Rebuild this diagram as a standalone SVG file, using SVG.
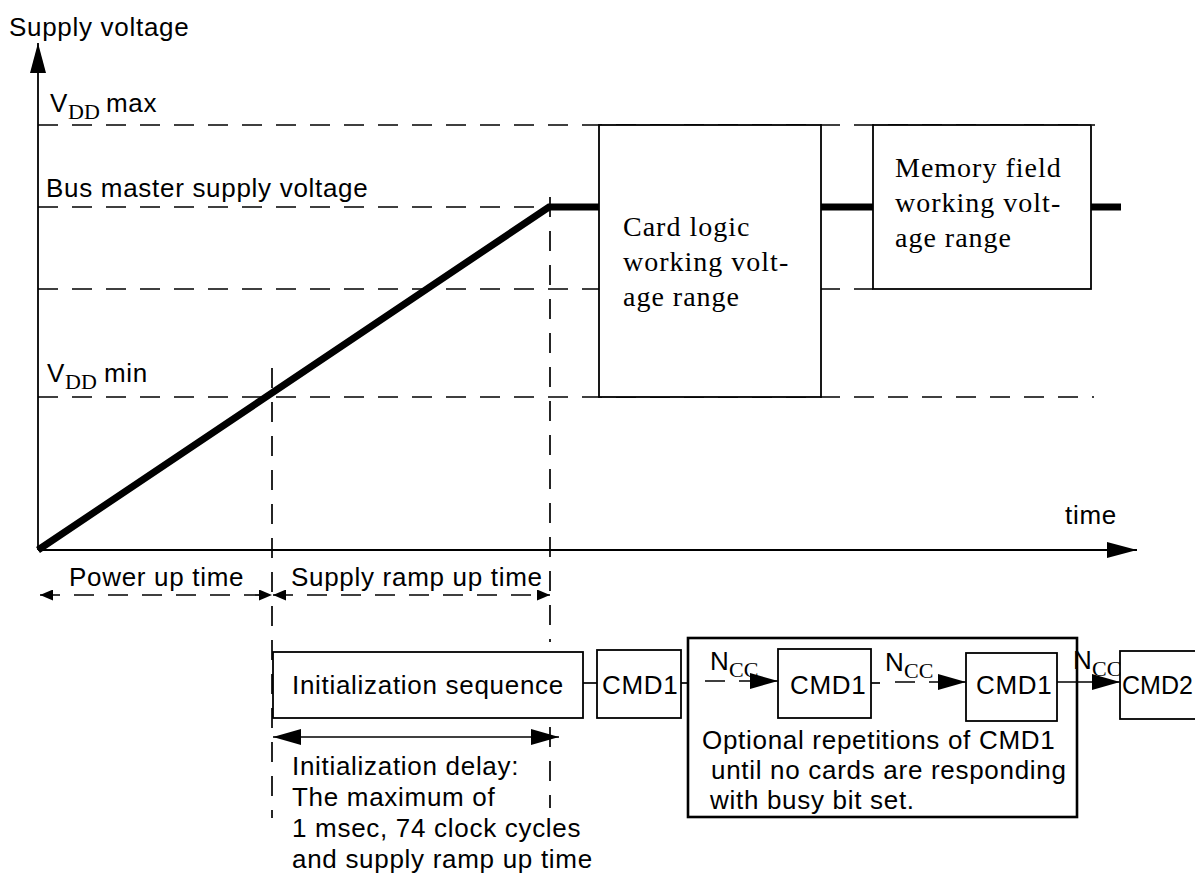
<svg xmlns="http://www.w3.org/2000/svg" width="1195" height="875" viewBox="0 0 1195 875">
<style>
  .bg { fill: #ffffff; }
  .t { font-family: "Liberation Sans", Arial, Helvetica, sans-serif; font-size: 26px; letter-spacing: 0.7px; fill: #000; }
  .s { font-family: "Liberation Serif", "Times New Roman", serif; font-size: 28px; letter-spacing: 1px; fill: #000; }
  .sub { font-family: "Liberation Serif", "Times New Roman", serif; font-size: 22px; fill: #000; }
  .axis { stroke: #000; stroke-width: 1.8; fill: none; }
  .dash { stroke: #000; stroke-width: 1.7; fill: none; stroke-dasharray: 20 14; }
  .thick { stroke: #000; stroke-width: 7; fill: none; stroke-linecap: butt; }
  .box { stroke: #000; stroke-width: 1.8; fill: #fff; }
  .obox { stroke: #000; stroke-width: 2.6; fill: none; }
  .line { stroke: #000; stroke-width: 1.7; fill: none; }
</style>
<defs>
  <marker id="axisHead" viewBox="0 0 30 16" refX="30" refY="8" markerWidth="30" markerHeight="16" markerUnits="userSpaceOnUse" orient="auto-start-reverse">
    <path d="M0,0 L30,8 L0,16 z" fill="#000"/>
  </marker>
  <marker id="bigHead" viewBox="0 0 28 16" refX="28" refY="8" markerWidth="28" markerHeight="16" markerUnits="userSpaceOnUse" orient="auto-start-reverse">
    <path d="M0,0 L28,8 L0,16 z" fill="#000"/>
  </marker>
  <marker id="smallHead" viewBox="0 0 13 11" refX="13" refY="5.5" markerWidth="13" markerHeight="11" markerUnits="userSpaceOnUse" orient="auto-start-reverse">
    <path d="M0,0 L13,5.5 L0,11 z" fill="#000"/>
  </marker>
</defs>
<rect class="bg" x="0" y="0" width="1195" height="875"/>

<g id="optional-repetitions">
  <rect class="obox" x="688" y="638" width="389" height="179"/>
  <text class="t" x="702" y="749">Optional repetitions of CMD1</text>
  <text class="t" x="711" y="779">until no cards are responding</text>
  <text class="t" x="710" y="809">with busy bit set.</text>
</g>

<!-- Guide lines, axes and connectors -->
<g id="connectors">
  <!-- horizontal dashed levels -->
  <line class="dash" x1="38" y1="125" x2="1095" y2="125"/>
  <line class="dash" x1="38" y1="207" x2="549" y2="207"/>
  <line class="dash" x1="38" y1="289" x2="873" y2="289"/>
  <line class="dash" x1="38" y1="397" x2="1094" y2="397"/>
  <!-- vertical dashed markers -->
  <line class="dash" x1="272" y1="368" x2="272" y2="818"/>
  <line class="dash" x1="550" y1="197" x2="550" y2="642"/>
  <line class="dash" x1="550" y1="727" x2="550" y2="808"/>
  <!-- axes -->
  <line class="axis" x1="38" y1="550" x2="38" y2="43" marker-end="url(#axisHead)"/>
  <line class="axis" x1="38" y1="550" x2="1137" y2="550" marker-end="url(#axisHead)"/>
  <!-- supply ramp -->
  <polyline class="thick" points="38,550 549,207 599,207"/>
  <line class="thick" x1="821" y1="207" x2="873" y2="207"/>
  <line class="thick" x1="1091" y1="207" x2="1121" y2="207"/>
  <!-- time spans -->
  <line class="dash" x1="40" y1="595" x2="272" y2="595" marker-start="url(#smallHead)" marker-end="url(#smallHead)"/>
  <line class="dash" x1="273" y1="595" x2="550" y2="595" marker-start="url(#smallHead)" marker-end="url(#smallHead)"/>
  <line class="line" x1="273" y1="737" x2="559" y2="737" marker-start="url(#bigHead)" marker-end="url(#bigHead)"/>
  <!-- command sequence -->
  <line class="line" x1="583" y1="683" x2="597" y2="683"/>
  <line class="line" x1="681" y1="683" x2="688" y2="683"/>
  <line class="line" x1="871" y1="683" x2="880" y2="683"/>
  <line class="dash" x1="705" y1="681" x2="778" y2="681" marker-end="url(#bigHead)"/>
  <line class="dash" x1="895" y1="682" x2="966" y2="682" marker-end="url(#bigHead)"/>
  <line class="line" x1="1057" y1="682" x2="1120" y2="682" marker-end="url(#bigHead)"/>
</g>

<!-- Axis and level labels -->
<g id="labels">
  <text class="t" x="9" y="36">Supply voltage</text>
  <text class="t" x="50" y="112">V</text>
  <text class="sub" x="68" y="119">DD</text>
  <text class="t" x="106" y="112">max</text>
  <text class="t" x="46" y="197">Bus master supply voltage</text>
  <text class="t" x="47" y="382">V</text>
  <text class="sub" x="65" y="389">DD</text>
  <text class="t" x="104" y="382">min</text>
  <text class="t" x="1065" y="524">time</text>
  <text class="t" x="69" y="586">Power up time</text>
  <text class="t" x="291" y="586">Supply ramp up time</text>
  <text class="t" x="292" y="775">Initialization delay:</text>
  <text class="t" x="292" y="806">The maximum of</text>
  <text class="t" x="292" y="837">1 msec, 74 clock cycles</text>
  <text class="t" x="292" y="868">and supply ramp up time</text>
</g>

<g id="card-logic">
  <rect class="box" x="599" y="125" width="222" height="272"/>
  <text class="s" x="623" y="236">Card logic</text>
  <text class="s" x="623" y="271">working volt-</text>
  <text class="s" x="623" y="306">age range</text>
</g>

<g id="memory-field">
  <rect class="box" x="873" y="125" width="218" height="164"/>
  <text class="s" x="895" y="177">Memory field</text>
  <text class="s" x="895" y="212">working volt-</text>
  <text class="s" x="895" y="247">age range</text>
</g>

<g id="init-sequence">
  <rect class="box" x="273" y="652" width="310" height="66"/>
  <text class="t" x="292" y="694">Initialization sequence</text>
</g>

<g id="cmd1-a">
  <rect class="box" x="597" y="650" width="84" height="68"/>
  <text class="t" x="602" y="694">CMD1</text>
</g>

<g id="cmd1-b">
  <rect class="box" x="778" y="649" width="93" height="69"/>
  <text class="t" x="790" y="694">CMD1</text>
</g>

<g id="cmd1-c">
  <rect class="box" x="966" y="653" width="91" height="68"/>
  <text class="t" x="976" y="694">CMD1</text>
</g>

<g id="cmd2">
  <rect class="box" x="1120" y="651" width="100" height="68"/>
  <text class="t" x="1122" y="694" style="font-size:25px;letter-spacing:0">CMD2</text>
</g>

<g id="ncc-labels">
  <text class="t" x="710" y="670">N</text>
  <text class="sub" x="729" y="677">CC</text>
  <text class="t" x="885" y="671">N</text>
  <text class="sub" x="904" y="678">CC</text>
  <text class="t" x="1073" y="669">N</text>
  <text class="sub" x="1092" y="676">CC</text>
</g>
</svg>
